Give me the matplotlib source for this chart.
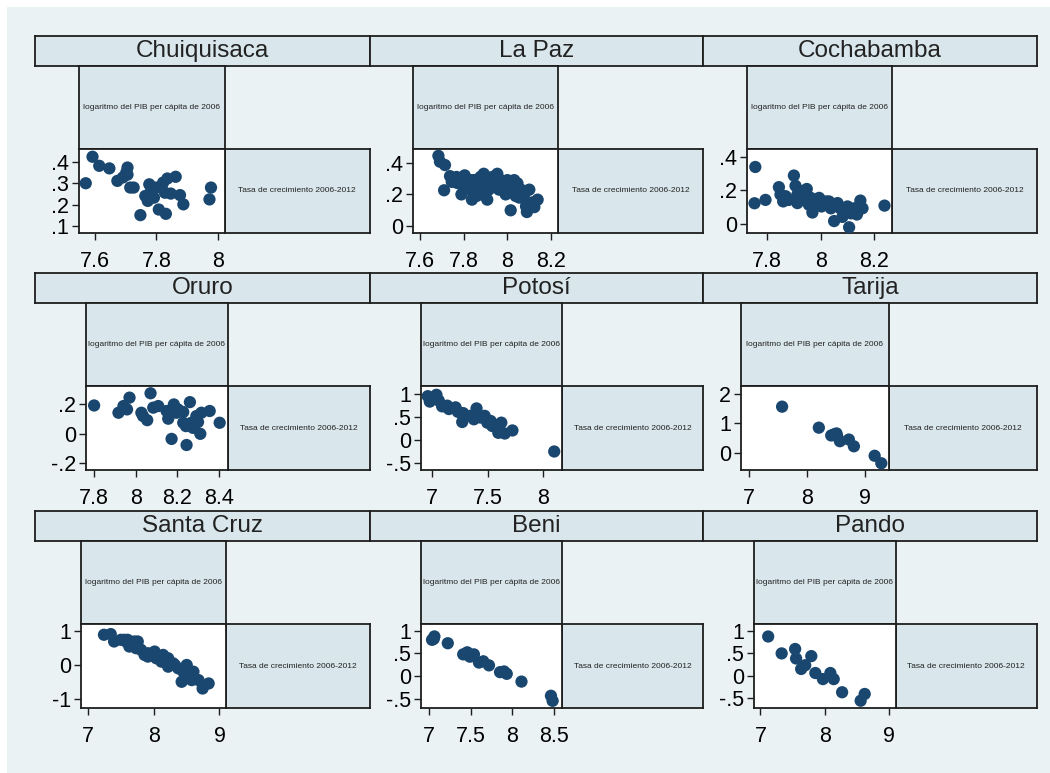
import numpy as np
import matplotlib.pyplot as plt
from matplotlib.patches import Rectangle
from matplotlib.ticker import FuncFormatter

plt.rcParams['font.family'] = ['Liberation Sans', 'DejaVu Sans']

# datos: x = log PIB per capita 2006, y = tasa de crecimiento 2006-2012
departamentos = ['Chuiquisaca', 'La Paz', 'Cochabamba', 'Oruro', 'Potosí', 'Tarija',
                 'Santa Cruz', 'Beni', 'Pando']

chu_x = [7.570, 7.592, 7.614, 7.647, 7.673, 7.691, 7.702, 7.706, 7.706, 7.715, 7.726, 7.748,
         7.764, 7.772, 7.777, 7.783, 7.792, 7.798, 7.808, 7.817, 7.822, 7.828, 7.831, 7.836,
         7.847, 7.863, 7.877, 7.888, 7.973, 7.978]
chu_y = [.300, .423, .381, .369, .311, .327, .350, .373, .340, .280, .280, .152,
         .241, .218, .295, .264, .233, .280, .178, .280, .303, .256, .158, .322,
         .252, .330, .245, .202, .225, .280]

lpz_x = [7.685, 7.692, 7.715, 7.711, 7.738, 7.746, 7.771, 7.790, 7.805, 7.813, 7.831, 7.838,
         7.846, 7.862, 7.877, 7.885, 7.900, 7.908, 7.915, 7.931, 7.938, 7.954, 7.962, 7.977,
         7.992, 8.000, 8.015, 8.023, 8.038, 8.046, 8.062, 8.069, 8.085, 8.089, 8.100, 8.115,
         8.123, 8.138, 7.768, 7.831, 7.892, 7.923, 7.969, 8.008, 8.031, 8.054, 8.077, 7.859,
         7.798, 7.908]
lpz_y = [.443, .406, .385, .226, .315, .279, .272, .200, .320, .270, .230, .167,
         .290, .250, .310, .200, .270, .167, .230, .310, .270, .330, .230, .270,
         .200, .290, .100, .250, .190, .270, .230, .180, .125, .089, .230, .150,
         .120, .167, .310, .290, .330, .250, .290, .240, .290, .180, .200, .190,
         .250, .270]

cbb_x = [7.756, 7.753, 7.794, 7.844, 7.850, 7.860, 7.869, 7.881, 7.900, 7.906, 7.913, 7.913,
         7.925, 7.938, 7.948, 7.956, 7.969, 7.981, 7.994, 8.003, 8.019, 8.031, 8.038, 8.050,
         8.063, 8.073, 8.081, 8.094, 8.106, 8.113, 8.125, 8.135, 8.148, 8.156, 8.238, 7.931,
         7.963, 8.100]
cbb_y = [.338, .122, .142, .218, .174, .133, .164, .142, .287, .226, .174, .123,
         .195, .142, .207, .113, .067, .113, .154, .103, .133, .133, .092, .016,
         .123, .092, .041, .072, -.021, .062, .092, .055, .138, .092, .108, .164,
         .154, .103]

oru_x = [7.800, 7.917, 7.941, 7.970, 7.958, 8.027, 8.035, 8.055, 8.071, 8.084, 8.108, 8.148,
         8.156, 8.172, 8.183, 8.203, 8.228, 8.241, 8.244, 8.260, 8.267, 8.275, 8.291, 8.299,
         8.310, 8.315, 8.355, 8.403, 8.228, 8.283, 8.195]
oru_y = [.193, .143, .189, .247, .166, .143, .120, .092, .277, .178, .189, .155,
         .102, -.037, .200, .166, .148, .051, -.079, .216, .074, .039, .120, .079,
         -.002, .143, .155, .074, .074, .067, .143]

pts_x = [6.961, 6.979, 7.039, 7.060, 7.090, 7.136, 7.151, 7.211, 7.232, 7.280, 7.271, 7.346,
         7.400, 7.376, 7.437, 7.473, 7.497, 7.542, 7.587, 7.623, 7.596, 7.654, 7.723, 8.099,
         7.406, 7.527]
pts_y = [.948, .830, .978, .852, .726, .741, .667, .704, .607, .578, .385, .519,
         .681, .444, .481, .519, .370, .296, .259, .370, .148, .133, .200, -.259,
         .519, .407]

tja_x = [7.575, 8.207, 8.420, 8.511, 8.523, 8.569, 8.724, 8.810, 9.167, 9.282, 8.466]
tja_y = [1.566, .857, .594, .663, .571, .400, .457, .229, -.091, -.343, .630]

scz_x = [7.246, 7.349, 7.400, 7.503, 7.579, 7.605, 7.656, 7.708, 7.733, 7.759, 7.810, 7.862,
         7.913, 8.015, 8.041, 8.092, 8.144, 8.169, 8.221, 8.221, 8.297, 8.374, 8.426, 8.503,
         8.528, 8.605, 8.579, 8.682, 8.744, 8.836, 7.631, 7.682, 7.964, 8.118, 8.323, 8.451,
         7.913, 7.554, 7.759]
scz_y = [.882, .902, .686, .735, .686, .735, .588, .686, .490, .686, .441, .294,
         .343, .392, .196, .245, .294, .098, .196, -.049, .049, -.098, -.490, .000,
         -.245, -.196, -.441, -.441, -.686, -.539, .539, .637, .294, .098, .000, -.196,
         .245, .735, .539]

ben_x = [7.040, 7.068, 7.060, 7.228, 7.412, 7.460, 7.492, 7.540, 7.600, 7.652, 7.720, 7.852,
         7.900, 7.932, 8.108, 8.460, 8.480]
ben_y = [.800, .874, .822, .725, .480, .525, .429, .480, .300, .327, .238, .089,
         .104, .052, -.119, -.431, -.542]

pan_x = [7.121, 7.331, 7.541, 7.556, 7.635, 7.698, 7.793, 7.856, 7.974, 8.090, 8.142, 8.273,
         8.562, 8.625]
pan_y = [.872, .496, .594, .383, .150, .233, .436, .060, -.075, .060, -.075, -.368,
         -.556, -.406]

datos_x = [chu_x, lpz_x, cbb_x, oru_x, pts_x, tja_x, scz_x, ben_x, pan_x]
datos_y = [chu_y, lpz_y, cbb_y, oru_y, pts_y, tja_y, scz_y, ben_y, pan_y]

xticks = [[7.6, 7.8, 8], [7.6, 7.8, 8, 8.2], [7.8, 8, 8.2], [7.8, 8, 8.2, 8.4], [7, 7.5, 8],
          [7, 8, 9], [7, 8, 9], [7, 7.5, 8, 8.5], [7, 8, 9]]
yticks = [[.1, .2, .3, .4], [0, .2, .4], [0, .2, .4], [-.2, 0, .2], [-.5, 0, .5, 1],
          [0, 1, 2], [-1, 0, 1], [-.5, 0, .5, 1], [-.5, 0, .5, 1]]
xlims = [(7.548, 8.022), (7.569, 8.231), (7.725, 8.266), (7.761, 8.443), (6.90, 8.169),
         (6.868, 9.414), (6.897, 9.092), (6.908, 8.592), (6.90, 9.105)]
ylims = [(.069, .459), (-.043, .486), (-.055, .445), (-.251, .327), (-.663, 1.17),
         (-.571, 2.263), (-1.255, 1.196), (-.70, 1.148), (-.718, 1.15)]

lbl_x = 'logaritmo del PIB per cápita de 2006'
lbl_y = 'Tasa de crecimiento 2006-2012'

fondo = '#EAF2F3'
caja = '#D9E6EB'
punto = '#1A476F'
borde = '#1E1E1E'

W, H = 1050, 773
fig = plt.figure(figsize=(W / 100, H / 100), dpi=100)
fig.patch.set_facecolor('white')
fig.patches.append(Rectangle((7 / W, 0), 1, 1 - 7 / H, transform=fig.transFigure,
                             facecolor=fondo, edgecolor='none', zorder=-10))


def ax_px(x0, y0, x1, y1):
    """crea un eje con coordenadas en pixeles (origen arriba a la izquierda)"""
    return fig.add_axes([x0 / W, 1 - y1 / H, (x1 - x0) / W, (y1 - y0) / H])


def caja_texto(ax, texto, size):
    ax.set_facecolor(caja)
    ax.set_xticks([])
    ax.set_yticks([])
    for s in ax.spines.values():
        s.set_color(borde)
        s.set_linewidth(1.3)
    ax.text(0.5, 0.5, texto, ha='center', va='center', fontsize=size,
            color='#222222', transform=ax.transAxes)


def fmt(v, pos):
    s = ('%g' % v)
    return s.replace('0.', '.')


col_izq = [35, 370, 703]
col_der = [370, 703, 1037]
fila_top = [36, 273, 511]
desplaz = [44, 43, 44, 51, 51, 38, 46, 51, 51]

for i in range(9):
    f, c = i // 3, i % 3
    x0, x1 = col_izq[c], col_der[c]
    t = fila_top[f]
    ax_s = ax_px(x0, t, x1, t + 30)
    caja_texto(ax_s, departamentos[i], 17.5)

    bl = x0 + desplaz[i]
    mid = (bl + x1) / 2
    ax_a = ax_px(bl, t + 30, mid, t + 113)
    caja_texto(ax_a, lbl_x, 6)
    ax_b = ax_px(mid, t + 113, x1, t + 197)
    caja_texto(ax_b, lbl_y, 6)

    ax = ax_px(bl, t + 113, mid, t + 197)
    ax.set_facecolor('white')
    ax.scatter(datos_x[i], datos_y[i], s=78, color=punto, edgecolors='none', zorder=3)
    ax.set_xlim(xlims[i])
    ax.set_ylim(ylims[i])
    ax.set_xticks(xticks[i])
    ax.set_yticks(yticks[i])
    ax.xaxis.set_major_formatter(FuncFormatter(fmt))
    ax.yaxis.set_major_formatter(FuncFormatter(fmt))
    ax.tick_params(labelsize=15.5, length=5, width=1, color=borde, pad=2)
    ax.tick_params(axis='x', pad=8)
    for s in ax.spines.values():
        s.set_color(borde)
        s.set_linewidth(1.3)

fig.savefig('out.png', dpi=100, facecolor='white')
